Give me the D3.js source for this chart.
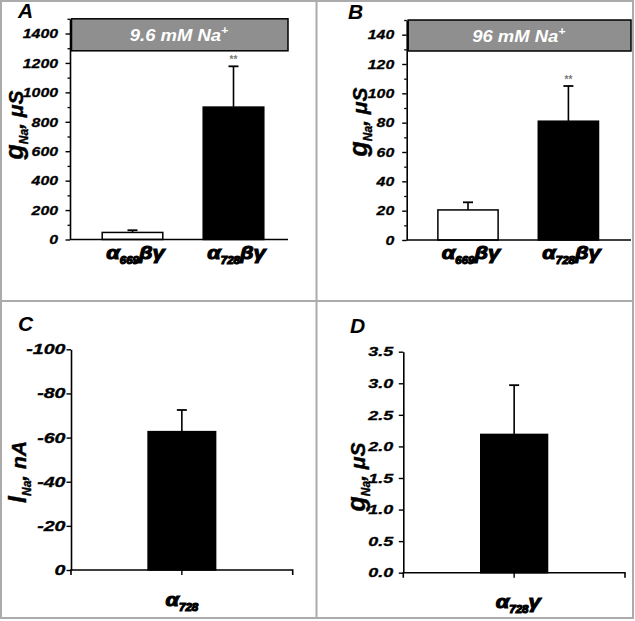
<!DOCTYPE html>
<html><head><meta charset="utf-8">
<script src="https://cdn.jsdelivr.net/npm/d3@7"></script>
<style>
body{margin:0;background:#fff;}
text{font-family:"Liberation Sans",Arial,sans-serif;font-weight:bold;font-style:italic;}
</style></head>
<body><svg id="c" width="635" height="621"></svg>
<script>
// ---------- data ----------
const catsA = ["669", "728"];
const valuesA = [48, 900];
const errorsA = [15, 277];
const sigA = ["", "**"];
const ticksA = [0, 200, 400, 600, 800, 1000, 1200, 1400];
const minorA = [100, 300, 500, 700, 900, 1100, 1300, 1500];

const catsB = ["669", "728"];
const valuesB = [20.5, 81];
const errorsB = [5.2, 24];
const sigB = ["", "**"];
const ticksB = [0, 20, 40, 60, 80, 100, 120, 140];
const minorB = [10, 30, 50, 70, 90, 110, 130, 150];

const catsC = ["728"];
const valuesC = [-62.7];
const errorsC = [-9.8];
const ticksC = [0, -20, -40, -60, -80, -100];

const catsD = ["728"];
const valuesD = [2.19];
const errorsD = [0.78];
const ticksD = [0, 0.5, 1.0, 1.5, 2.0, 2.5, 3.0, 3.5];

const colorsAB = ["#ffffff", "#000000"];

// ---------- drawing ----------
const svg = d3.select("#c");
const FONT = "'Liberation Sans', Arial, sans-serif";

// frame
svg.append("rect").attr("x",1).attr("y",1).attr("width",632).attr("height",617)
  .attr("fill","none").attr("stroke","#ababab").attr("stroke-width",2);
svg.append("line").attr("x1",316.5).attr("x2",316.5).attr("y1",1).attr("y2",618)
  .attr("stroke","#ababab").attr("stroke-width",2);
svg.append("line").attr("x1",1).attr("x2",633).attr("y1",301).attr("y2",301)
  .attr("stroke","#ababab").attr("stroke-width",2);

function panel(cfg){
  const y = d3.scaleLinear().domain(cfg.yDomain).range([cfg.y0, cfg.y1]);
  const x = d3.scaleBand().domain(cfg.cats).range(cfg.bandRange)
    .paddingInner(cfg.pi).paddingOuter(cfg.po);
  const g = svg.append("g");

  // header box
  if (cfg.box){
    g.append("rect").attr("x",cfg.axisX+1.5).attr("y",cfg.y1)
      .attr("width",cfg.axisEnd-cfg.axisX-1.5).attr("height",cfg.boxH)
      .attr("fill","#8f8f8f").attr("stroke","#000").attr("stroke-width",1.5);
    const t = g.append("text").attr("transform",
        `translate(${(cfg.axisX+cfg.axisEnd)/2},${cfg.y1+cfg.boxH/2+6}) scale(1.12,1)`)
      .attr("text-anchor","middle").attr("fill","#fff")
      .attr("font-family",FONT).attr("font-size",16.5);
    t.append("tspan").text(cfg.box);
    t.append("tspan").text("+").attr("dy",-7).attr("font-size",11);
  }

  // error bars
  const cap = 5;
  cfg.vals.forEach((v,i)=>{
    const cx = x(cfg.cats[i]) + x.bandwidth()/2;
    const top = y(v + cfg.errs[i]);
    g.append("line").attr("x1",cx).attr("x2",cx).attr("y1",y(v)).attr("y2",top)
      .attr("stroke","#000").attr("stroke-width",1.6);
    g.append("line").attr("x1",cx-cap).attr("x2",cx+cap).attr("y1",top).attr("y2",top)
      .attr("stroke","#000").attr("stroke-width",1.8);
    if (cfg.sig && cfg.sig[i]){
      g.append("text").attr("x",cx).attr("y",top-3).attr("text-anchor","middle")
        .attr("fill","#777").attr("font-size",10).style("font-style","normal")
        .text(cfg.sig[i]);
    }
  });

  // bars
  g.selectAll("rect.bar").data(cfg.vals).enter().append("rect").attr("class","bar")
    .attr("x",(d,i)=>x(cfg.cats[i]))
    .attr("width",x.bandwidth())
    .attr("y",d=>Math.min(y(d),y(0)))
    .attr("height",d=>Math.abs(y(0)-y(d)))
    .attr("fill",(d,i)=>cfg.colors[i])
    .attr("stroke","#000").attr("stroke-width",1.5);

  // minor ticks
  if (cfg.minor){
    const mg = g.append("g").attr("transform",`translate(${cfg.axisX},0)`)
      .call(d3.axisLeft(y).tickValues(cfg.minor).tickSize(2.5).tickSizeOuter(0).tickFormat(""));
    mg.select(".domain").remove();
    mg.selectAll("line").attr("stroke-width",1.3);
  }
  // y axis (lines)
  const ya = g.append("g").attr("transform",`translate(${cfg.axisX},0)`)
    .call(d3.axisLeft(y).tickValues(cfg.ticks).tickSize(4.5).tickSizeOuter(0).tickFormat(""));
  ya.select(".domain").attr("stroke-width",1.6);
  ya.selectAll(".tick line").attr("stroke-width",1.4);
  // y tick labels
  g.selectAll("text.tl").data(cfg.ticks).enter().append("text").attr("class","tl")
    .attr("transform",d=>`translate(${cfg.axisX-cfg.tickGap},${y(d)+cfg.tickFs*0.36}) scale(${cfg.tickSX},1)`)
    .attr("text-anchor","end").attr("fill","#000")
    .attr("font-family",FONT).attr("font-size",cfg.tickFs)
    .attr("stroke","#000").attr("stroke-width",0.3)
    .text(cfg.fmt);

  // x axis
  const xa = g.append("g").attr("transform",`translate(0,${cfg.y0})`)
    .call(d3.axisBottom(x).tickSize(cfg.xTick).tickSizeOuter(0).tickFormat(""));
  xa.select(".domain").remove();
  xa.selectAll("line").attr("stroke-width",1.4);
  g.append("path").attr("d",
      `M${cfg.axisX},${cfg.y0+cfg.xTick}V${cfg.y0}H${cfg.axisEnd}V${cfg.y0+cfg.xTick}`)
    .attr("fill","none").attr("stroke","#000").attr("stroke-width",1.6);

  // category labels
  cfg.cats.forEach((c,i)=>{
    const cx = x(c) + x.bandwidth()/2 + cfg.labDx;
    const t = g.append("text").attr("transform",`translate(${cx},${cfg.labY}) scale(1.15,1)`)
      .attr("text-anchor","middle").attr("fill","#000")
      .attr("font-family",FONT).attr("font-size",19)
      .attr("stroke","#000").attr("stroke-width",1.1);
    t.append("tspan").text("α");
    t.append("tspan").text(c).attr("dy",5).attr("font-size",10);
    if (cfg.suffix) t.append("tspan").text(cfg.suffix).attr("dy",-5);
  });

  // y label
  const yl = g.append("text").attr("transform",`translate(${cfg.ylX},${cfg.ylY}) rotate(-90)`)
    .attr("text-anchor","middle").attr("fill","#000").attr("font-family",FONT)
    .attr("stroke","#000").attr("stroke-width",0.4);
  yl.append("tspan").text(cfg.ylMain).attr("font-size",25);
  yl.append("tspan").text("Na").attr("dy",5).attr("font-size",12);
  yl.append("tspan").text(cfg.ylUnit).attr("dy",-5).attr("font-size",21);

  // panel letter
  g.append("text").attr("x",cfg.letX).attr("y",cfg.letY).attr("font-size",21)
    .attr("font-family",FONT).attr("fill","#000").text(cfg.letter);
}

const plain = d => String(d);

panel({cats:catsA, vals:valuesA, errs:errorsA, sig:sigA, colors:colorsAB,
  yDomain:[0,1500], y0:239.5, y1:18.8, ticks:ticksA, minor:minorA, fmt:plain,
  tickFs:13.3, tickSX:1.19, tickGap:12,
  axisX:70, axisEnd:288, bandRange:[82,284], pi:0.4, po:0.2, xTick:0,
  box:"9.6 mM Na", boxH:32, labY:259, labDx:3, suffix:"βγ",
  ylX:23, ylY:125, ylMain:"g", ylUnit:", μS", letter:"A", letX:18, letY:18});

panel({cats:catsB, vals:valuesB, errs:errorsB, sig:sigB, colors:colorsAB,
  yDomain:[0,150], y0:240, y1:20, ticks:ticksB, minor:minorB, fmt:plain,
  tickFs:13.3, tickSX:1.19, tickGap:12.5,
  axisX:406.7, axisEnd:631, bandRange:[417.8,618.6], pi:0.4, po:0.2, xTick:0,
  box:"96 mM Na", boxH:31, labY:259, labDx:3, suffix:"βγ",
  ylX:367, ylY:122, ylMain:"g", ylUnit:", μS", letter:"B", letX:348, letY:19});

panel({cats:catsC, vals:valuesC, errs:errorsC, colors:["#000"],
  yDomain:[0,-100], y0:570, y1:349.3, ticks:ticksC, fmt:plain,
  tickFs:14, tickSX:1.4, tickGap:5.5,
  axisX:71, axisEnd:292.7, bandRange:[71,292.7], pi:0.533, po:0.533, xTick:5,
  labY:606, labDx:0, suffix:"",
  ylX:26, ylY:472, ylMain:"I", ylUnit:", nA", letter:"C", letX:18, letY:331});

panel({cats:catsD, vals:valuesD, errs:errorsD, colors:["#000"],
  yDomain:[0,3.5], y0:572.7, y1:351.7, ticks:ticksD, fmt:d3.format(".1f"),
  tickFs:13.3, tickSX:1.35, tickGap:10,
  axisX:403.3, axisEnd:625, bandRange:[403.3,625], pi:0.537, po:0.537, xTick:5,
  labY:608, labDx:4, suffix:"γ",
  ylX:365, ylY:477, ylMain:"g", ylUnit:", μS", letter:"D", letX:350, letY:333});
</script></body></html>
